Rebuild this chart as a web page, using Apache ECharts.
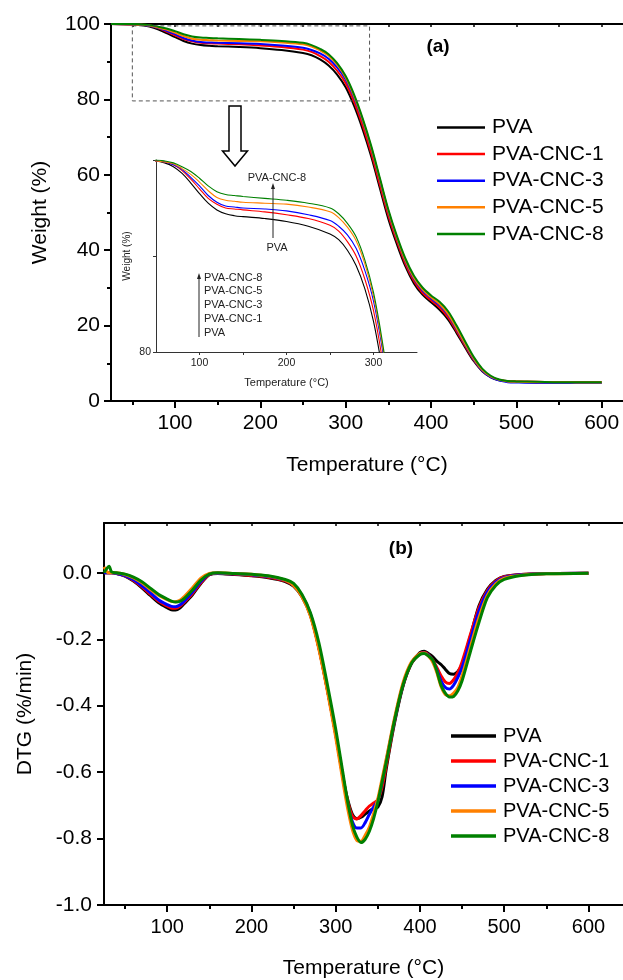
<!DOCTYPE html>
<html>
<head>
<meta charset="utf-8">
<script src="https://cdn.jsdelivr.net/npm/echarts@6/dist/echarts.min.js"></script>
<style>html,body{margin:0;padding:0;background:#fff}#c{width:623px;height:980px}</style>
</head>
<body>
<div id="c"></div>
<script>
// ---------- DATA ----------
const seriesNames = ['PVA', 'PVA-CNC-1', 'PVA-CNC-3', 'PVA-CNC-5', 'PVA-CNC-8'];
const seriesColors = ['#000000', '#ff0000', '#0000ff', '#ff8000', '#008000'];

// TG (weight %) temperatures
const tempTG = [25, 50, 60, 70, 80, 90, 100, 110, 120, 130, 140, 150, 175, 200, 225, 250, 260, 270, 280, 290,
  300, 310, 320, 330, 340, 350, 360, 370, 380, 390, 400, 410, 420, 430, 440, 450, 460, 470, 480, 490,
  500, 525, 550, 575, 600];
const tgPVA = [100, 99.9, 99.7, 99.3, 98.6, 97.6, 96.5, 95.5, 94.8, 94.4, 94.2, 94.1, 93.9, 93.6, 93.1, 92.3, 91.7, 90.6, 89.0, 86.6,
  83.2, 78.2, 72.0, 64.8, 56.5, 48.3, 41.6, 35.7, 31.2, 28.2, 26.2, 24.2, 21.6, 18.0, 14.2, 10.6, 7.9, 6.3, 5.5, 5.2,
  5.1, 5.0, 5.0, 4.9, 4.9];
const tgCNC1 = [100, 99.9, 99.8, 99.5, 98.9, 98.0, 97.0, 96.0, 95.4, 95.0, 94.9, 94.8, 94.6, 94.3, 93.9, 93.2, 92.6, 91.5, 90.0, 87.6,
  84.3, 79.3, 73.0, 65.7, 57.4, 49.2, 42.4, 36.4, 31.8, 28.7, 26.7, 24.8, 22.2, 18.5, 14.6, 10.9, 8.1, 6.4, 5.6, 5.3,
  5.2, 5.1, 5.0, 5.0, 5.0];
const tgCNC3 = [100, 99.9, 99.8, 99.5, 99.0, 98.2, 97.3, 96.3, 95.6, 95.2, 95.1, 95.0, 94.9, 94.7, 94.3, 93.7, 93.1, 92.2, 90.8, 88.5,
  85.3, 80.4, 74.2, 67.0, 58.6, 50.2, 43.2, 37.1, 32.4, 29.3, 27.2, 25.4, 22.8, 19.0, 15.0, 11.1, 8.1, 6.3, 5.4, 5.0,
  4.9, 4.8, 4.8, 4.8, 4.8];
const tgCNC5 = [100, 99.9, 99.8, 99.6, 99.1, 98.5, 97.7, 96.8, 96.1, 95.8, 95.7, 95.6, 95.5, 95.4, 95.1, 94.6, 94.0, 93.0, 91.6, 89.2,
  85.8, 80.8, 74.5, 67.2, 58.8, 50.4, 43.4, 37.3, 32.7, 29.6, 27.5, 25.7, 23.1, 19.3, 15.2, 11.3, 8.3, 6.5, 5.6, 5.2,
  5.1, 5.0, 5.0, 4.9, 4.9];
const tgCNC8 = [100, 100, 99.9, 99.7, 99.3, 98.8, 98.1, 97.3, 96.7, 96.4, 96.3, 96.2, 96.0, 95.8, 95.5, 95.0, 94.4, 93.4, 92.0, 89.6,
  86.2, 81.2, 74.9, 67.6, 59.2, 50.8, 43.8, 37.8, 33.2, 30.1, 28.0, 26.3, 23.8, 20.0, 15.8, 11.7, 8.6, 6.7, 5.7, 5.3,
  5.2, 5.1, 5.0, 5.0, 5.0];

// DTG (%/min) temperatures
const tempDTG = [25, 28, 31, 34, 40, 50, 60, 70, 80, 90, 100, 105, 110, 115, 120, 130, 140, 150, 160, 180,
  200, 220, 240, 250, 260, 270, 280, 290, 300, 310, 315, 320, 325, 330, 335, 340, 345, 350, 355, 360,
  370, 380, 390, 400, 405, 410, 415, 420, 425, 430, 435, 440, 445, 450, 460, 470, 480, 490, 500, 520,
  550, 600];
const dtgPVA = [0, 0, 0, 0, -0.002, -0.010, -0.025, -0.045, -0.068, -0.090, -0.105, -0.111, -0.112, -0.106, -0.093, -0.066, -0.032, -0.006, -0.002, -0.005,
  -0.009, -0.015, -0.026, -0.040, -0.072, -0.128, -0.225, -0.350, -0.485, -0.635, -0.690, -0.728, -0.740, -0.736, -0.726, -0.717, -0.710, -0.705, -0.675, -0.590,
  -0.450, -0.340, -0.272, -0.240, -0.236, -0.243, -0.252, -0.266, -0.276, -0.290, -0.303, -0.305, -0.297, -0.275, -0.190, -0.100, -0.050, -0.023, -0.011, -0.005,
  -0.002, -0.001];
const dtgCNC1 = [0, 0, 0, 0, -0.002, -0.009, -0.023, -0.042, -0.064, -0.086, -0.100, -0.106, -0.107, -0.101, -0.089, -0.062, -0.030, -0.005, -0.001, -0.004,
  -0.008, -0.013, -0.024, -0.038, -0.070, -0.126, -0.225, -0.350, -0.485, -0.635, -0.695, -0.733, -0.741, -0.731, -0.716, -0.702, -0.693, -0.683, -0.645, -0.580,
  -0.445, -0.338, -0.272, -0.243, -0.240, -0.246, -0.262, -0.285, -0.310, -0.328, -0.333, -0.322, -0.300, -0.268, -0.185, -0.105, -0.053, -0.025, -0.012, -0.005,
  -0.002, -0.001];
const dtgCNC3 = [0, 0, 0, 0, -0.002, -0.008, -0.021, -0.039, -0.060, -0.082, -0.096, -0.101, -0.102, -0.097, -0.086, -0.058, -0.026, -0.004, -0.001, -0.003,
  -0.006, -0.011, -0.022, -0.036, -0.068, -0.124, -0.223, -0.348, -0.485, -0.638, -0.705, -0.750, -0.768, -0.768, -0.752, -0.727, -0.705, -0.685, -0.630, -0.565,
  -0.442, -0.336, -0.271, -0.244, -0.241, -0.248, -0.265, -0.292, -0.325, -0.345, -0.350, -0.338, -0.315, -0.285, -0.200, -0.115, -0.058, -0.028, -0.014, -0.006,
  -0.002, -0.001];
const dtgCNC5 = [0.018, 0.005, 0, 0, 0, -0.005, -0.015, -0.030, -0.050, -0.068, -0.081, -0.086, -0.087, -0.083, -0.072, -0.045, -0.016, -0.002, 0, -0.002,
  -0.004, -0.010, -0.022, -0.038, -0.072, -0.130, -0.230, -0.355, -0.495, -0.650, -0.720, -0.775, -0.805, -0.808, -0.790, -0.765, -0.725, -0.680, -0.620, -0.560,
  -0.435, -0.330, -0.268, -0.243, -0.241, -0.250, -0.268, -0.300, -0.342, -0.366, -0.370, -0.362, -0.345, -0.310, -0.222, -0.135, -0.068, -0.033, -0.016, -0.007,
  -0.003, -0.001];
const dtgCNC8 = [0, 0.012, 0.020, 0.003, 0, -0.004, -0.013, -0.027, -0.046, -0.065, -0.079, -0.085, -0.088, -0.086, -0.078, -0.052, -0.022, -0.004, 0, -0.002,
  -0.004, -0.009, -0.020, -0.032, -0.065, -0.120, -0.210, -0.335, -0.470, -0.625, -0.700, -0.760, -0.795, -0.812, -0.802, -0.778, -0.740, -0.690, -0.630, -0.570,
  -0.442, -0.337, -0.272, -0.246, -0.243, -0.250, -0.262, -0.295, -0.338, -0.362, -0.374, -0.372, -0.355, -0.325, -0.236, -0.150, -0.075, -0.038, -0.020, -0.008,
  -0.003, -0.001];

// tick labels
const tgXTicks = [100, 200, 300, 400, 500, 600];
const tgXMinor = [50, 150, 250, 350, 450, 550];
const frameTicks = [50, 100, 150, 200, 250, 300, 350, 400, 450, 500, 550, 600];
const insetXTicks = [100, 200, 300];
const insetXMinor = [150, 250];
const dtgYTicks = [-1.0, -0.8, -0.6, -0.4, -0.2, 0.0];
const dtgYMinor = [-0.9, -0.7, -0.5, -0.3, -0.1, 0.1];
const insetListLabels = ['PVA-CNC-8', 'PVA-CNC-5', 'PVA-CNC-3', 'PVA-CNC-1', 'PVA'];

// ---------- CHART ----------
const FONT = "'Liberation Sans', Arial, sans-serif";
const tgSets = [tgPVA, tgCNC1, tgCNC3, tgCNC5, tgCNC8];
const dtgSets = [dtgPVA, dtgCNC1, dtgCNC3, dtgCNC5, dtgCNC8];
const pair = (xs, ys) => xs.map((x, i) => [x, ys[i]]);

const chart = echarts.init(document.getElementById('c'), null, { renderer: 'canvas' });

function mainX(grid, min, max, name, labelSize, gap) {
  return {
    type: 'value', gridIndex: grid, min: min, max: max, position: 'bottom',
    axisLine: { onZero: false, lineStyle: { color: '#000', width: 2 } },
    axisTick: { customValues: tgXTicks, length: 7, lineStyle: { color: '#000', width: 2 } },
    axisLabel: { customValues: tgXTicks, fontSize: labelSize, color: '#000', fontFamily: FONT, margin: 12 },
    splitLine: { show: false },
    name: name, nameLocation: 'middle', nameGap: gap,
    nameTextStyle: { fontSize: 21, color: '#000', fontFamily: FONT }
  };
}
function minorX(grid, min, max, vals) {
  return {
    type: 'value', gridIndex: grid, min: min, max: max, position: 'bottom',
    axisLine: { show: false, onZero: false },
    axisTick: { customValues: vals, length: 4, lineStyle: { color: '#000', width: 2 } },
    axisLabel: { show: false }, splitLine: { show: false }
  };
}
function frameX(grid, min, max) {
  return {
    type: 'value', gridIndex: grid, min: min, max: max, position: 'top',
    axisLine: { onZero: false, lineStyle: { color: '#000', width: 2 } },
    axisTick: { customValues: frameTicks, inside: true, length: 3, lineStyle: { color: '#000', width: 1.5 } },
    axisLabel: { show: false }, splitLine: { show: false }
  };
}

const series = [];
seriesNames.forEach((n, i) => {
  series.push({
    name: n, type: 'line', xAxisIndex: 0, yAxisIndex: 0, data: pair(tempTG, tgSets[i]),
    symbol: 'none', smooth: 0.35, lineStyle: { color: seriesColors[i], width: 2 }, itemStyle: { color: seriesColors[i] }
  });
});
seriesNames.forEach((n, i) => {
  series.push({
    name: n, type: 'line', xAxisIndex: 3, yAxisIndex: 1, data: pair(tempTG, tgSets[i]),
    symbol: 'none', smooth: 0.35, clip: true, lineStyle: { color: seriesColors[i], width: 1.1 }, itemStyle: { color: seriesColors[i] }
  });
});
seriesNames.forEach((n, i) => {
  series.push({
    name: n, type: 'line', xAxisIndex: 4, yAxisIndex: 2, data: pair(tempDTG, dtgSets[i]),
    symbol: 'none', smooth: 0.3, lineStyle: { color: seriesColors[i], width: 3 }, itemStyle: { color: seriesColors[i] }
  });
});

const option = {
  animation: false,
  backgroundColor: '#fff',
  textStyle: { fontFamily: FONT },
  grid: [
    { left: 111, top: 24, width: 512, height: 377 },
    { left: 156, top: 160, width: 261, height: 192 },
    { left: 104, top: 523, width: 519, height: 387 }
  ],
  xAxis: [
    mainX(0, 25, 625, 'Temperature (°C)', 21, 54),
    minorX(0, 25, 625, tgXMinor),
    frameX(0, 25, 625),
    {
      type: 'value', gridIndex: 1, min: 50, max: 350, position: 'bottom',
      axisLine: { onZero: false, lineStyle: { color: '#333', width: 1 } },
      axisTick: { customValues: insetXTicks.concat(insetXMinor), length: 3, lineStyle: { color: '#333', width: 1 } },
      axisLabel: { customValues: insetXTicks, fontSize: 10.5, color: '#222', fontFamily: FONT, margin: 6 },
      splitLine: { show: false },
      name: 'Temperature (°C)', nameLocation: 'middle', nameGap: 25,
      nameTextStyle: { fontSize: 11, color: '#222', fontFamily: FONT }
    },
    mainX(2, 25, 641, 'Temperature (°C)', 20, 53),
    minorX(2, 25, 641, tgXMinor),
    frameX(2, 25, 641)
  ],
  yAxis: [
    {
      type: 'value', gridIndex: 0, min: 0, max: 100, interval: 20,
      axisLine: { lineStyle: { color: '#000', width: 2 } },
      axisTick: { length: 7, lineStyle: { color: '#000', width: 2 } },
      minorTick: { show: true, splitNumber: 2, length: 4, lineStyle: { color: '#000', width: 2 } },
      axisLabel: { fontSize: 21, color: '#000', fontFamily: FONT, margin: 11 },
      splitLine: { show: false }, minorSplitLine: { show: false },
      name: 'Weight (%)', nameLocation: 'middle', nameGap: 60, nameRotate: 90,
      nameTextStyle: { fontSize: 21, color: '#000', fontFamily: FONT }
    },
    {
      type: 'value', gridIndex: 1, min: 80, max: 100, interval: 10,
      axisLine: { lineStyle: { color: '#333', width: 1 } },
      axisTick: { length: 3, lineStyle: { color: '#333', width: 1 } },
      axisLabel: { fontSize: 10.5, color: '#222', fontFamily: FONT, margin: 5, formatter: v => (v === 80 ? '80' : '') },
      splitLine: { show: false },
      name: 'Weight (%)', nameLocation: 'middle', nameGap: 24, nameRotate: 90,
      nameTextStyle: { fontSize: 10, color: '#222', fontFamily: FONT }
    },
    {
      type: 'value', gridIndex: 2, min: -1.0, max: 0.15,
      axisLine: { onZero: false, lineStyle: { color: '#000', width: 2 } },
      axisTick: { customValues: dtgYTicks, length: 7, lineStyle: { color: '#000', width: 2 } },
      axisLabel: { customValues: dtgYTicks, fontSize: 21, color: '#000', fontFamily: FONT, margin: 12, formatter: v => v.toFixed(1) },
      splitLine: { show: false },
      name: 'DTG (%/min)', nameLocation: 'middle', nameGap: 68, nameRotate: 90,
      nameTextStyle: { fontSize: 21, color: '#000', fontFamily: FONT }
    },
    {
      type: 'value', gridIndex: 2, min: -1.0, max: 0.15,
      axisLine: { show: false, onZero: false },
      axisTick: { customValues: dtgYMinor, length: 4, lineStyle: { color: '#000', width: 2 } },
      axisLabel: { show: false }, splitLine: { show: false }
    }
  ],
  legend: [
    {
      orient: 'vertical', left: 437, top: 117, padding: 0, icon: 'rect', itemWidth: 48, itemHeight: 2.5, itemGap: 5.6,
      data: seriesNames, selectedMode: false,
      textStyle: { fontSize: 21, color: '#000', fontFamily: FONT, padding: [0, 0, 0, 2] }
    },
    {
      orient: 'vertical', left: 451, top: 726, padding: 0, icon: 'rect', itemWidth: 45, itemHeight: 3.5, itemGap: 5,
      data: seriesNames, selectedMode: false,
      textStyle: { fontSize: 20, color: '#000', fontFamily: FONT, padding: [0, 0, 0, 2] }
    }
  ],
  series: series
};
chart.setOption(option);

// annotations (zoom box tied to axis values)
const p1 = chart.convertToPixel({ gridIndex: 0 }, [50, 99.5]);
const p2 = chart.convertToPixel({ gridIndex: 0 }, [328, 79.6]);
const listTop = 277.7, listStep = 13.75;
const graphics = [
  { type: 'rect', shape: { x: p1[0], y: p1[1], width: p2[0] - p1[0], height: p2[1] - p1[1] },
    style: { fill: 'none', stroke: '#555', lineWidth: 1, lineDash: [4, 3] }, z: 10 },
  { type: 'polygon', shape: { points: [[229, 106], [241, 106], [241, 151], [247.5, 151], [235, 166], [222.5, 151], [229, 151]] },
    style: { fill: '#fff', stroke: '#000', lineWidth: 1.5 }, z: 10 },
  { type: 'text', x: 438, y: 47, style: { text: '(a)', font: 'bold 19px ' + FONT, fill: '#000', align: 'center', verticalAlign: 'middle' }, z: 10 },
  { type: 'text', x: 401, y: 549, style: { text: '(b)', font: 'bold 19px ' + FONT, fill: '#000', align: 'center', verticalAlign: 'middle' }, z: 10 },
  { type: 'line', shape: { x1: 273, y1: 238, x2: 273, y2: 188 }, style: { stroke: '#222', lineWidth: 1 }, z: 10 },
  { type: 'polygon', shape: { points: [[271, 189], [275, 189], [273, 183]] }, style: { fill: '#222' }, z: 10 },
  { type: 'text', x: 277, y: 177.7, style: { text: 'PVA-CNC-8', font: '11px ' + FONT, fill: '#222', align: 'center', verticalAlign: 'middle' }, z: 10 },
  { type: 'text', x: 277, y: 248.3, style: { text: 'PVA', font: '11px ' + FONT, fill: '#222', align: 'center', verticalAlign: 'middle' }, z: 10 },
  { type: 'line', shape: { x1: 199, y1: 337, x2: 199, y2: 278 }, style: { stroke: '#222', lineWidth: 1 }, z: 10 },
  { type: 'polygon', shape: { points: [[197, 279], [201, 279], [199, 273]] }, style: { fill: '#222' }, z: 10 }
];
insetListLabels.forEach((t, i) => {
  graphics.push({ type: 'text', x: 204, y: listTop + i * listStep,
    style: { text: t, font: '11px ' + FONT, fill: '#222', align: 'left', verticalAlign: 'middle' }, z: 10 });
});
chart.setOption({ graphic: graphics });
</script>
</body>
</html>
